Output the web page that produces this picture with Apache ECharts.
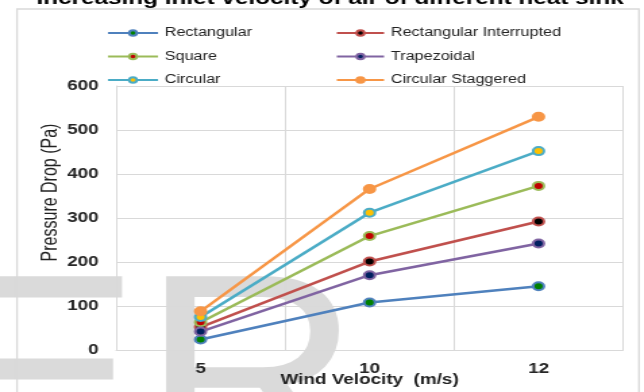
<!DOCTYPE html>
<html>
<head>
<meta charset="utf-8">
<script src="https://cdn.jsdelivr.net/npm/echarts@6/dist/echarts.min.js"></script>
<style>
  html, body { margin: 0; padding: 0; background: #fff; overflow: hidden; }
  /* the figure is drawn narrower and widened horizontally, like the original figure */
  #chart { width: 477px; height: 392px; transform: scaleX(1.35); transform-origin: 0 0; }
</style>
</head>
<body>
<div id="chart"></div>
<script>
// Wind velocity categories (m/s)
const velocities = ['5', '10', '12'];
const yTicks = [0, 100, 200, 300, 400, 500, 600];

// Pressure drop (Pa) per heat sink type
const rectangular            = [24, 108, 145];
const rectangularInterrupted = [52, 201, 292];
const square                 = [63, 259, 373];
const trapezoidal            = [42, 170, 242];
const circular               = [75, 312, 452];
const circularStaggered      = [88, 366, 530];

const seriesNames = ['Rectangular', 'Rectangular Interrupted', 'Square', 'Trapezoidal', 'Circular', 'Circular Staggered'];
const seriesValues = [rectangular, rectangularInterrupted, square, trapezoidal, circular, circularStaggered];

// line colour / marker fill per series
const lineColors  = ['#4f81bd', '#c0504d', '#9bbb59', '#8064a2', '#4bacc6', '#f79646'];
const markerFills = ['#008000', '#000000', '#c00000', '#002060', '#ffc000', '#f79646'];

const FONT = '"Liberation Sans", Arial, sans-serif';
const GRID_COLOR = '#d9d9d9';

const chart = echarts.init(document.getElementById('chart'));

const series = seriesNames.map((name, i) => ({
  name,
  type: 'line',
  data: seriesValues[i],
  symbol: 'circle',
  symbolSize: 8,
  lineStyle: { color: lineColors[i], width: 2.5 },
  itemStyle: { color: markerFills[i], borderColor: lineColors[i], borderWidth: 2 },
  emphasis: { disabled: true },
  animation: false
}));

const legendCommon = {
  orient: 'vertical',
  top: 27,
  padding: 0,
  itemHeight: 7,
  itemGap: 11.5,
  textStyle: { fontFamily: FONT, fontSize: 12, color: '#222' }
};

chart.setOption({
  animation: false,
  backgroundColor: '#fff',
  title: {
    text: 'Increasing inlet velocity of air of different heat sink',
    left: 27,
    top: -10,
    padding: 0,
    textStyle: { fontFamily: FONT, fontSize: 18, fontWeight: 'bold', color: '#000' }
  },
  legend: [
    Object.assign({ left: 79, itemWidth: 37, data: [seriesNames[0], seriesNames[2], seriesNames[4]] }, legendCommon),
    Object.assign({ left: 248.5, itemWidth: 35, data: [seriesNames[1], seriesNames[3], seriesNames[5]] }, legendCommon)
  ],
  grid: { left: 86, right: 15.5, top: 86, bottom: 42, outerBoundsMode: 'none', containLabel: false },
  xAxis: {
    type: 'category',
    data: velocities,
    boundaryGap: true,
    name: 'Wind Velocity  (m/s)',
    nameLocation: 'middle',
    nameGap: 23,
    nameMoveOverlap: false,
    nameTextStyle: { fontFamily: FONT, fontSize: 14, fontWeight: 'bold', color: '#222' },
    axisLine: { show: true, lineStyle: { color: GRID_COLOR, width: 1 } },
    axisTick: { show: false },
    axisLabel: { fontFamily: FONT, fontSize: 14, fontWeight: 'bold', color: '#262626', margin: 12 },
    splitLine: { show: true, lineStyle: { color: GRID_COLOR, width: 1 } }
  },
  yAxis: {
    type: 'value',
    min: yTicks[0],
    max: yTicks[yTicks.length - 1],
    interval: yTicks[1] - yTicks[0],
    name: 'Pressure Drop (Pa)',
    nameLocation: 'middle',
    nameGap: 40,
    nameMoveOverlap: false,
    nameTextStyle: { fontFamily: FONT, fontSize: 16, color: '#222', padding: [0, 0, 0, 51] },
    axisLine: { show: true, lineStyle: { color: GRID_COLOR, width: 1 } },
    axisTick: { show: false },
    axisLabel: { fontFamily: FONT, fontSize: 14, fontWeight: 'bold', color: '#262626', margin: 13 },
    splitLine: { show: true, lineStyle: { color: GRID_COLOR, width: 1 } }
  },
  graphic: [
    // outer frame of the chart area
    {
      type: 'rect', z: -5, silent: true,
      shape: { x: 12.6, y: 9, width: 460.7, height: 400 },
      style: { fill: 'none', stroke: GRID_COLOR, lineWidth: 1.3 }
    },
    // light journal watermark behind the plot
    {
      type: 'text', z: -10, silent: true,
      x: -46, y: 252, scaleX: 0.815, scaleY: 1,
      style: { text: 'ER', x: 0, y: 0, font: '277px "Liberation Sans", Arial, sans-serif', fill: '#dadada', align: 'left', verticalAlign: 'top' }
    }
  ],
  series
});
</script>
</body>
</html>
